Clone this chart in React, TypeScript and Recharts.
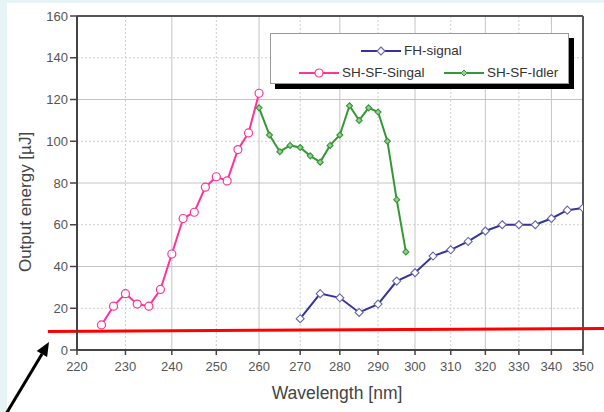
import React from 'react';
import { LineChart, Line, XAxis, YAxis, ReferenceLine } from 'recharts';

const xTicks = [220, 230, 240, 250, 260, 270, 280, 290, 300, 310, 320, 330, 340, 350];
const yTicks = [0, 20, 40, 60, 80, 100, 120, 140, 160];

const fhWavelength = [270, 275, 280, 285, 290, 295, 300, 305, 310, 315, 320, 325, 330, 335, 340, 345, 350];
const fhEnergy = [15, 27, 25, 18, 22, 33, 37, 45, 48, 52, 57, 60, 60, 60, 63, 67, 68];

const singalWavelength = [225, 227.5, 230, 232.5, 235, 237.5, 240, 242.5, 245, 247.5, 250, 252.5, 255, 257.5, 260];
const singalEnergy = [12, 21, 27, 22, 21, 29, 46, 63, 66, 78, 83, 81, 96, 104, 123];

const idlerWavelength = [260, 262.5, 265, 267.5, 270, 272.5, 275, 277.5, 280, 282.5, 285, 287.5, 290, 292.5, 295, 297.5];
const idlerEnergy = [116, 103, 95, 98, 97, 93, 90, 98, 103, 117, 110, 116, 114, 100, 72, 47];

// grid: solid at every other tick, dotted in between
const gridXSolid = [240, 260, 280, 300, 320, 340];
const gridXDotted = [230, 250, 270, 290, 310, 330];
const gridYSolid = [40, 80, 120];
const gridYDotted = [20, 60, 100, 140];

// hand-drawn red threshold line, in data units
const thresholdLine = [{ x: 214.2, y: 8.9 }, { x: 357, y: 10.3 }];

const toPoints = (xs: number[], ys: number[]) => xs.map((x, i) => ({ x, y: ys[i] }));

const fhData = toPoints(fhWavelength, fhEnergy);
const singalData = toPoints(singalWavelength, singalEnergy);
const idlerData = toPoints(idlerWavelength, idlerEnergy);

const FONT = '"Liberation Sans", Arial, sans-serif';
const BLUE = '#333399';
const PINK = '#ff3399';
const GREEN = '#339933';

const circleDot = (props: any) => (
    <circle key={props.key} cx={props.cx} cy={props.cy} r={4} fill="#fff" stroke={PINK} strokeWidth={1.2} />
);

const diamondDot = (size: number, fill: string, stroke: string) => (props: any) => {
    const { cx, cy, key } = props;
    if (cx == null || cy == null) return <g key={key} />;
    return (
        <path
            key={key}
            d={`M${cx},${cy - size}L${cx + size},${cy}L${cx},${cy + size}L${cx - size},${cy}Z`}
            fill={fill}
            stroke={stroke}
            strokeWidth={1.1}
        />
    );
};

const legendEntries = [
    { name: 'FH-signal', color: BLUE, left: 90, top: 10, marker: 'diamond' },
    { name: 'SH-SF-Singal', color: PINK, left: 28, top: 32, marker: 'circle' },
    { name: 'SH-SF-Idler', color: GREEN, left: 173, top: 32, marker: 'small' },
];

const LegendBox = () => (
    <div
        style={{
            position: 'absolute',
            left: 270,
            top: 33,
            width: 299,
            height: 51,
            boxSizing: 'border-box',
            border: '1px solid #999',
            background: '#fff',
            boxShadow: '5px 5px 0 #000',
            fontFamily: FONT,
            fontSize: 13.5,
            color: '#333',
        }}
    >
        {legendEntries.map((e) => (
            <div key={e.name} style={{ position: 'absolute', left: e.left, top: e.top, display: 'flex', alignItems: 'center', whiteSpace: 'nowrap' }}>
                <svg width={40} height={12} style={{ marginRight: 3 }}>
                    <line x1={0} y1={6} x2={40} y2={6} stroke={e.color} strokeWidth={2} />
                    {e.marker === 'circle' && <circle cx={20} cy={6} r={4} fill="#fff" stroke={e.color} strokeWidth={1.2} />}
                    {e.marker === 'diamond' && <path d="M20,2L24,6L20,10L16,6Z" fill="#fff" stroke="#6666aa" strokeWidth={1.1} />}
                    {e.marker === 'small' && <path d="M20,3L23,6L20,9L17,6Z" fill="#99cc99" stroke={e.color} strokeWidth={1} />}
                </svg>
                <span style={{ lineHeight: '14px' }}>{e.name}</span>
            </div>
        ))}
    </div>
);

const App = () => {
    return (
        <div style={{ position: 'absolute', left: 0, top: 0, width: 604, height: 412, background: '#e6f3f7', overflow: 'hidden' }}>
            <div style={{ position: 'absolute', left: 7, top: 3, right: 0, bottom: 0, background: '#fff' }} />
            <div style={{ position: 'absolute', left: 0, top: 0 }}>
                <LineChart width={604} height={412} margin={{ top: 16, right: 21, left: 0, bottom: 0 }}>
                    <XAxis
                        type="number"
                        dataKey="x"
                        scale="log"
                        domain={[220, 350]}
                        ticks={xTicks}
                        allowDataOverflow
                        height={62}
                        tickSize={5}
                        tickMargin={7}
                        axisLine={{ stroke: '#444', strokeWidth: 2 }}
                        tickLine={{ stroke: '#444', strokeWidth: 1.5 }}
                        tick={{ fill: '#555', fontSize: 13, fontFamily: FONT }}
                        label={{
                            content: ({ viewBox }: any) => (
                                <text x={337} y={viewBox.y + 49} textAnchor="middle" fill="#444" fontSize={17.5} fontFamily={FONT}>
                                    Wavelength [nm]
                                </text>
                            ),
                        }}
                    />
                    <YAxis
                        type="number"
                        domain={[0, 160]}
                        ticks={yTicks}
                        width={77}
                        tickSize={7}
                        tickMargin={2}
                        axisLine={{ stroke: '#444', strokeWidth: 2 }}
                        tickLine={{ stroke: '#444', strokeWidth: 1.5 }}
                        tick={{ fill: '#555', fontSize: 13, fontFamily: FONT }}
                        label={{
                            content: () => (
                                <text x={31} y={202} transform="rotate(-90 31 202)" textAnchor="middle" fill="#444" fontSize={17} fontFamily={FONT}>
                                    Output energy [µJ]
                                </text>
                            ),
                        }}
                    />
                    {gridXSolid.map((v) => (
                        <ReferenceLine key={`xs${v}`} x={v} stroke="#c4c4c4" strokeWidth={1} />
                    ))}
                    {gridXDotted.map((v) => (
                        <ReferenceLine key={`xd${v}`} x={v} stroke="#cfcfcf" strokeWidth={1} strokeDasharray="2 2" />
                    ))}
                    {gridYSolid.map((v) => (
                        <ReferenceLine key={`ys${v}`} y={v} stroke="#c4c4c4" strokeWidth={1} />
                    ))}
                    {gridYDotted.map((v) => (
                        <ReferenceLine key={`yd${v}`} y={v} stroke="#cfcfcf" strokeWidth={1} strokeDasharray="2 2" />
                    ))}
                    <ReferenceLine y={160} stroke="#555" strokeWidth={2} />
                    <ReferenceLine x={350} stroke="#555" strokeWidth={2} />
                    <Line
                        data={fhData}
                        dataKey="y"
                        name="FH-signal"
                        type="linear"
                        stroke={BLUE}
                        strokeWidth={2}
                        dot={diamondDot(4, '#fff', '#6666aa')}
                        isAnimationActive={false}
                    />
                    <Line
                        data={singalData}
                        dataKey="y"
                        name="SH-SF-Singal"
                        type="linear"
                        stroke={PINK}
                        strokeWidth={2}
                        dot={circleDot}
                        isAnimationActive={false}
                    />
                    <Line
                        data={idlerData}
                        dataKey="y"
                        name="SH-SF-Idler"
                        type="linear"
                        stroke={GREEN}
                        strokeWidth={2}
                        dot={diamondDot(3, '#99cc99', GREEN)}
                        isAnimationActive={false}
                    />
                    <ReferenceLine segment={thresholdLine} stroke="#ff0000" strokeWidth={3} ifOverflow="visible" />
                </LineChart>
            </div>
            <LegendBox />
            <svg width={604} height={412} style={{ position: 'absolute', left: 0, top: 0, pointerEvents: 'none' }}>
                <line x1={6} y1={414} x2={42} y2={354} stroke="#000" strokeWidth={3} />
                <polygon points="49,342 47.1,357.1 36.7,351.1" fill="#000" />
            </svg>
        </div>
    );
};

export default App;
